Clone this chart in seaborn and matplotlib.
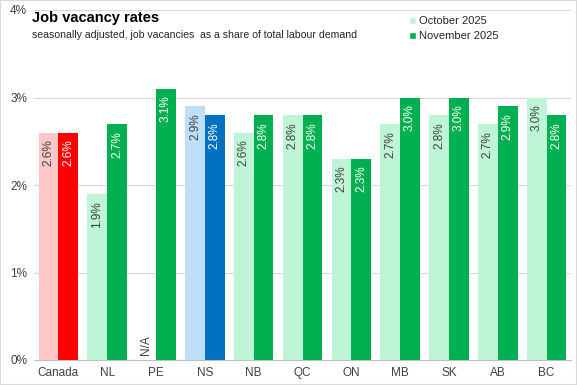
import numpy as np
import pandas as pd
import seaborn as sns
import matplotlib.pyplot as plt
from matplotlib.patches import Patch, Rectangle

# Data
regions = ['Canada', 'NL', 'PE', 'NS', 'NB', 'QC', 'ON', 'MB', 'SK', 'AB', 'BC']
oct_2025 = [2.6, 1.9, np.nan, 2.9, 2.6, 2.8, 2.3, 2.7, 2.8, 2.7, 3.0]
nov_2025 = [2.6, 2.7, 3.1, 2.8, 2.8, 2.8, 2.3, 3.0, 3.0, 2.9, 2.8]
months = ['October 2025', 'November 2025']

df = pd.DataFrame({
    'region': regions * 2,
    'month': [months[0]] * len(regions) + [months[1]] * len(regions),
    'rate': oct_2025 + nov_2025,
})

light_green = '#BDF5D6'
dark_green = '#00B050'
special = {'Canada': ('#FFC7C7', '#FF0000'), 'NS': ('#BDDFF8', '#0070C0')}

sns.set_style('white')
plt.rcParams['font.family'] = ['Liberation Sans', 'DejaVu Sans']

fig = plt.figure(figsize=(5.77, 3.85), dpi=100)
ax = fig.add_axes([34 / 577, 25 / 385, 537 / 577, 350 / 385])

sns.barplot(data=df, x='region', y='rate', hue='month', order=regions, hue_order=months,
            palette=[light_green, dark_green], width=0.81, gap=0, saturation=1,
            legend=False, ax=ax, zorder=2, linewidth=0)

# recolour Canada and NS, add value labels
for ci, cont in enumerate(ax.containers):
    vals = oct_2025 if ci == 0 else nov_2025
    for bar in cont:
        bar.set_linewidth(0)
        idx = int(round(bar.get_x() + bar.get_width() / 2))
        name = regions[idx]
        if name in special:
            bar.set_facecolor(special[name][ci])
        v = vals[idx]
        if np.isnan(v):
            continue
        txt_col = '#404040' if ci == 0 else 'white'
        ax.text(bar.get_x() + bar.get_width() / 2, v - 0.08, f'{v:.1f}%', rotation=90,
                ha='center', va='top', fontsize=8.5, color=txt_col, zorder=3)

# N/A label for PE October
pe = regions.index('PE')
ax.text(pe - 0.2, 0.06, 'N/A', rotation=90, ha='center', va='bottom', fontsize=8.5,
        color='#404040', zorder=3)

ax.set_xlim(-0.5, len(regions) - 0.5)
ax.set_ylim(0, 4)
ax.set_yticks([0, 1, 2, 3, 4])
ax.set_yticklabels([f'{t}%' for t in range(5)])
ax.yaxis.grid(True, color='#D9D9D9', linewidth=0.8, zorder=0)
ax.set_xlabel('')
ax.set_ylabel('')
ax.tick_params(axis='both', length=0, labelsize=8.5, colors='#404040', pad=5)
for s in ['top', 'right', 'left']:
    ax.spines[s].set_visible(False)
ax.spines['bottom'].set_color('#BFBFBF')
ax.spines['bottom'].set_linewidth(0.8)

# titles
fig.text(32 / 577, 1 - 18 / 385, 'Job vacancy rates', fontsize=10.5, fontweight='bold',
         va='center', ha='left', color='#000000')
fig.text(32 / 577, 1 - 35 / 385, 'seasonally adjusted, job vacancies  as a share of total labour demand',
         fontsize=7.6, va='center', ha='left', color='#262626')

handles = [Patch(facecolor=light_green), Patch(facecolor=dark_green)]
fig.legend(handles, months, loc='upper left', bbox_to_anchor=(409 / 577, 1 - 16 / 385),
           frameon=False, handlelength=0.6, handleheight=0.6,
           handletextpad=0.3, labelspacing=0.45, borderaxespad=0, borderpad=0,
           prop={'size': 8})

fig.patches.append(Rectangle((0, 0), 1, 1, transform=fig.transFigure, fill=False,
                             edgecolor='#D9D9D9', linewidth=1.5))

fig.savefig('out.png', dpi=100)
